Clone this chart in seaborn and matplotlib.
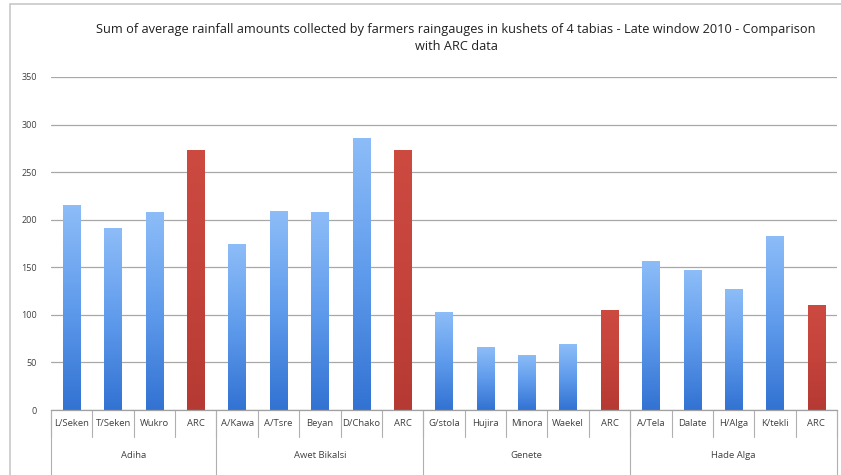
import numpy as np
import pandas as pd
import matplotlib
matplotlib.use("Agg")
import matplotlib.pyplot as plt
import seaborn as sns
from matplotlib.colors import LinearSegmentedColormap
from matplotlib.patches import Rectangle
from matplotlib.transforms import blended_transform_factory

# Rainfall sums (mm) per kushet, grouped by tabia; ARC = satellite estimate
tabias = ["Adiha", "Awet Bikalsi", "Genete", "Hade Alga"]
adiha_sites = ["L/Seken", "T/Seken", "Wukro", "ARC"]
adiha_rain = [215, 191, 208, 273]
awet_sites = ["A/Kawa", "A/Tsre", "Beyan", "D/Chako", "ARC"]
awet_rain = [174, 209, 208, 286, 273]
genete_sites = ["G/stola", "Hujira", "Minora", "Waekel", "ARC"]
genete_rain = [103, 66, 58, 69, 105]
hade_sites = ["A/Tela", "Dalate", "H/Alga", "K/tekli", "ARC"]
hade_rain = [157, 147, 127, 183, 110]
y_ticks = [0, 50, 100, 150, 200, 250, 300, 350]

title = ("Sum of average rainfall amounts collected by farmers raingauges in kushets of 4 tabias"
         " - Late window 2010 - Comparison\nwith ARC data")

rows = []
for tabia, sites, rain in zip(tabias,
                              [adiha_sites, awet_sites, genete_sites, hade_sites],
                              [adiha_rain, awet_rain, genete_rain, hade_rain]):
    for s, r in zip(sites, rain):
        rows.append({"key": f"{tabia}|{s}", "tabia": tabia, "site": s, "rain": r,
                     "source": "ARC" if s == "ARC" else "Farmers"})
df = pd.DataFrame(rows)

sns.set_theme(style="white")
plt.rcParams["font.family"] = ["Open Sans", "DejaVu Sans"]

fig = plt.figure(figsize=(8.41, 4.75), dpi=100)
ax = fig.add_axes([51 / 841, 1 - 410 / 475, 786 / 841, 333 / 475])

sns.barplot(data=df, x="key", y="rain", hue="source",
            palette={"Farmers": "#4a88e0", "ARC": "#c4413a"},
            dodge=False, width=0.42, legend=False, ax=ax, saturation=1)

ax.set_ylim(0, 350)
ax.set_xlim(-0.5, len(df) - 0.5)
ax.set_yticks(y_ticks)
ax.set_yticklabels([str(t) for t in y_ticks], fontsize=6.5, color="#404040")
ax.set_xticks([])
ax.set_xlabel("")
ax.set_ylabel("")
ax.tick_params(axis="y", length=4, color="#a0a0a0", width=0.8, pad=6)
for side in ["top", "right", "left"]:
    ax.spines[side].set_visible(False)
ax.spines["bottom"].set_color("#a0a0a0")
ax.spines["bottom"].set_linewidth(0.9)
ax.yaxis.grid(True, color="#a8a8a8", linewidth=0.9)
ax.set_axisbelow(True)

# Vertical gradient fill on each bar
blue_cmap = LinearSegmentedColormap.from_list("blue", ["#3272d2", "#5f9bec", "#8dbdf8"])
red_cmap = LinearSegmentedColormap.from_list("red", ["#b53a33", "#c4433b", "#cc4a40"])
grad = np.linspace(0, 1, 256).reshape(-1, 1)
for patch in list(ax.patches):
    x0, y0 = patch.get_x(), patch.get_y()
    w, h = patch.get_width(), patch.get_height()
    if h <= 0:
        continue
    idx = int(round(x0 + w / 2))
    cmap = red_cmap if df["source"].iloc[idx] == "ARC" else blue_cmap
    im = ax.imshow(grad, cmap=cmap, aspect="auto", origin="lower",
                   extent=(x0, x0 + w, y0, y0 + h), zorder=2)
    im.set_clip_path(patch)
    patch.set_facecolor("none")
    patch.set_edgecolor("none")
ax.set_xlim(-0.5, len(df) - 0.5)
ax.set_ylim(0, 350)

# Two-level category axis: kushet names and tabia names
trans = blended_transform_factory(ax.transData, ax.transAxes)
row1 = -27 / 333
row2 = -65 / 333
line_kw = dict(color="#b0b0b0", linewidth=0.8, transform=trans, clip_on=False)
for i, site in enumerate(df["site"]):
    ax.text(i, -13 / 333, site, transform=trans, ha="center", va="center",
            fontsize=6.8, color="#404040")
for b in range(len(df) + 1):
    ax.plot([b - 0.5, b - 0.5], [0, row1], **line_kw)
start = 0
for tabia in tabias:
    n = int((df["tabia"] == tabia).sum())
    ax.text(start + (n - 1) / 2, -46 / 333, tabia, transform=trans, ha="center",
            va="center", fontsize=6.8, color="#404040")
    ax.plot([start - 0.5, start - 0.5], [0, row2], **line_kw)
    start += n
ax.plot([start - 0.5, start - 0.5], [0, row2], **line_kw)

fig.text(456 / 841, 1 - 38 / 475, title, ha="center", va="center", fontsize=9.2,
         color="#202020", linespacing=1.45)

# Chart frame
fig.patches.append(Rectangle((10 / 841, -0.1), 1.0, 1 - 4 / 475 + 0.1,
                             transform=fig.transFigure, fill=False,
                             edgecolor="#c8c8c8", linewidth=1.2))

fig.savefig("out.png", dpi=100)
